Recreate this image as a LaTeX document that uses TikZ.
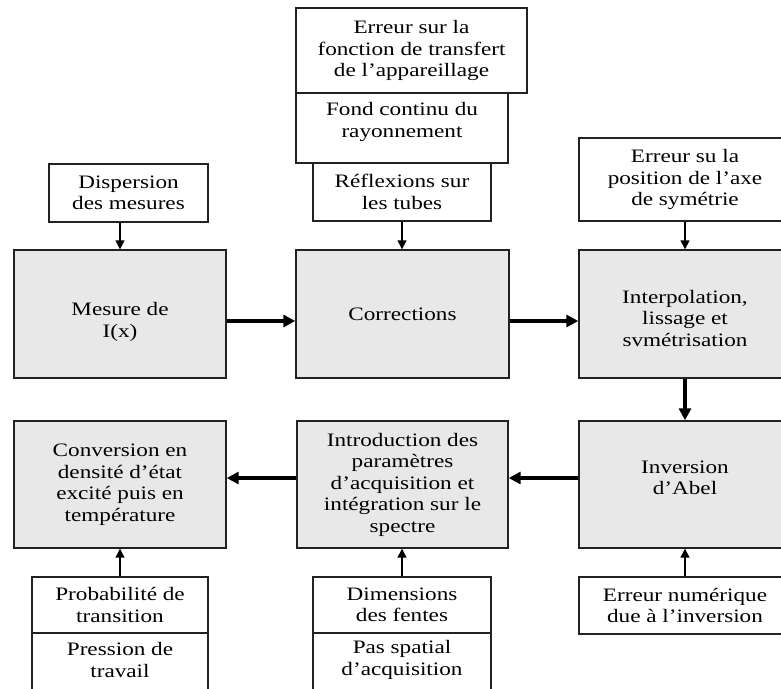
\documentclass[tikz,border=0pt]{standalone}
\usepackage{fontspec}
\setmainfont{Liberation Serif}[FakeStretch=1.22]
\usetikzlibrary{arrows.meta}
\definecolor{boxgray}{HTML}{E8E8E8}
\definecolor{edge}{HTML}{222222}
\begin{document}
\begin{tikzpicture}[x=1pt,y=-1pt,
  font=\fontsize{19}{21.5}\selectfont,
  wbox/.style={draw=edge,line width=1.4pt,fill=white,inner sep=0pt,align=center},
  gbox/.style={draw=edge,line width=1.4pt,fill=boxgray,inner sep=0pt,align=center},
  txt/.style={inner sep=0pt,align=center},
  thin arrow/.style={line width=1.4pt,-{Triangle[length=9pt,width=9pt]}},
  thick arrow/.style={line width=3.5pt,-{Triangle[length=12pt,width=12pt]}}]
\useasboundingbox (0,0) rectangle (781,688);
\clip (0,0) rectangle (781,688);
\coordinate (row1) at (0,321);
\coordinate (row2) at (0,478);
% top inputs
\node[wbox,minimum width=231,minimum height=85] (e1) at (411.5,50.5) {Erreur sur la\\fonction de transfert\\de l’appareillage};
\node[wbox,minimum width=212,minimum height=70] (fo) at (402,128) {};
\node[txt] (fot) at (402,122) {Fond continu du\\rayonnement};
\node[wbox,minimum width=178,minimum height=58] (re) at (402,192) {Réflexions sur\\les tubes};
\node[wbox,minimum width=159,minimum height=58] (di) at (128.5,193) {Dispersion\\des mesures};
\node[wbox,minimum width=212,minimum height=83] (es) at (685,179.5) {Erreur su la\\position de l’axe\\de symétrie};
% main row 1
\node[gbox,minimum width=212,minimum height=128] (me) at (120,314) {};
\node[txt] (met) at (120,322) {Mesure de\\I(x)};
\node[gbox,minimum width=213,minimum height=128] (co) at (402.5,314) {Corrections};
\node[gbox,minimum width=212,minimum height=128] (ip) at (685,314) {};
\node[txt] (ipt) at (685,318) {Interpolation,\\lissage et\\svmétrisation};
% main row 2
\node[gbox,minimum width=212,minimum height=127] (cv) at (120,484.5) {Conversion en\\densité d’état\\excité puis en\\température};
\node[gbox,minimum width=211,minimum height=127] (in) at (402.5,484.5) {Introduction des\\paramètres\\d’acquisition et\\intégration sur le\\spectre};
\node[gbox,minimum width=212,minimum height=127] (ab) at (685,484.5) {};
\node[txt] (abt) at (685,478) {Inversion\\d’Abel};
% bottom inputs
\node[wbox,minimum width=176,minimum height=56] (pr) at (120,605) {Probabilité de\\transition};
\node[wbox,minimum width=176,minimum height=77] (ps) at (120,671.5) {};
\node[txt] (pst) at (120,660) {Pression de\\travail};
\node[wbox,minimum width=178,minimum height=56] (dm) at (402,605) {Dimensions\\des fentes};
\node[wbox,minimum width=178,minimum height=77] (pa) at (402,671.5) {};
\node[txt] (pat) at (402,660) {Pas spatial\\d’acquisition};
\node[wbox,minimum width=212,minimum height=57] (en) at (685,605.5) {Erreur numérique\\due à l’inversion};
% thin arrows
\draw[thin arrow] (di.south -| me.north) -- (me.north);
\draw[thin arrow] (re.south) -- (re.south |- co.north);
\draw[thin arrow] (es.south) -- (ip.north);
\draw[thin arrow] (pr.north) -- (cv.south);
\draw[thin arrow] (dm.north) -- (dm.north |- in.south);
\draw[thin arrow] (en.north) -- (ab.south);
% thick arrows
\draw[thick arrow] (me.east |- row1) -- (co.west |- row1);
\draw[thick arrow] (co.east |- row1) -- (ip.west |- row1);
\draw[thick arrow] (ip.south) -- (ab.north);
\draw[thick arrow] (ab.west |- row2) -- (in.east |- row2);
\draw[thick arrow] (in.west |- row2) -- (cv.east |- row2);
\end{tikzpicture}
\end{document}
